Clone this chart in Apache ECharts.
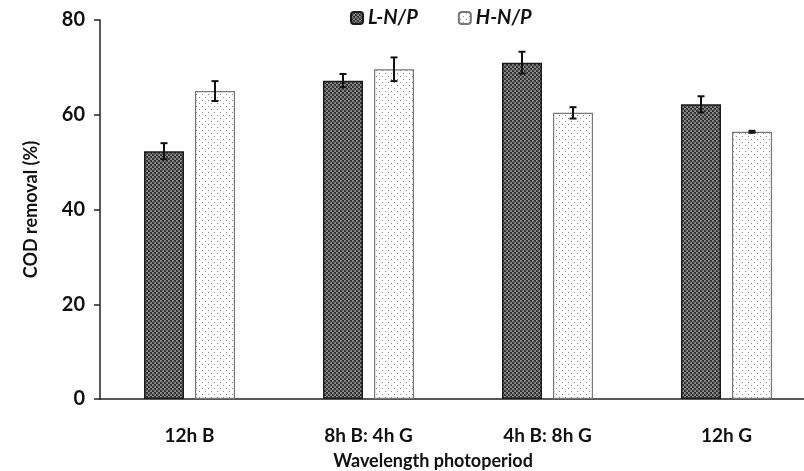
<!DOCTYPE html>
<html><head><meta charset="utf-8">
<script src="https://cdn.jsdelivr.net/npm/echarts@6/dist/echarts.min.js"></script>
<style>html,body{margin:0;background:#fff}#c{width:804px;height:471px}</style></head>
<body><div id="c"></div>
<script>
const categories = ['12h B', '8h B: 4h G', '4h B: 8h G', '12h G'];
const seriesNames = ['L-N/P', 'H-N/P'];
const lnpValues = [52.3, 67.2, 71.0, 62.2];
const lnpErrors = [1.7, 1.4, 2.3, 1.7];
const hnpValues = [65.0, 69.6, 60.4, 56.4];
const hnpErrors = [2.1, 2.5, 1.2, 0.2];
const yMin = 0, yMax = 80, yStep = 20;

function makePattern(kind) {
  const c = document.createElement('canvas');
  if (kind === 'dark') {
    c.width = 4; c.height = 4;
    const g = c.getContext('2d');
    g.fillStyle = '#2e2e2e'; g.fillRect(0, 0, 4, 4);
    g.fillStyle = '#8c8c8c';
    g.fillRect(0, 0, 2, 2); g.fillRect(2, 2, 2, 2);
    g.fillStyle = '#5a5a5a';
    g.fillRect(1, 1, 2, 2);
  } else {
    c.width = 6; c.height = 6;
    const g = c.getContext('2d');
    g.fillStyle = '#ffffff'; g.fillRect(0, 0, 6, 6);
    g.fillStyle = '#8a8a8a';
    g.fillRect(1, 1, 1, 1); g.fillRect(4, 4, 1, 1);
  }
  return { image: c, repeat: 'repeat' };
}

const FONT = 'Lato';
const barW = 40, gap = 11;
const off = (barW + gap) / 2;

function errRender(offset) {
  return function (params, api) {
    const x = api.value(0), v = api.value(1), e = api.value(2);
    const t = api.coord([x, v + e]);
    const b = api.coord([x, v - e]);
    const cx = t[0] + offset, hw = 3.5;
    const st = { stroke: '#111', lineWidth: 2 };
    return { type: 'group', children: [
      { type: 'line', shape: { x1: cx, y1: t[1], x2: cx, y2: b[1] }, style: st },
      { type: 'line', shape: { x1: cx - hw, y1: t[1], x2: cx + hw, y2: t[1] }, style: st },
      { type: 'line', shape: { x1: cx - hw, y1: b[1], x2: cx + hw, y2: b[1] }, style: st }
    ]};
  };
}

const chart = echarts.init(document.getElementById('c'), null, { renderer: 'canvas' });
chart.setOption({
  animation: false,
  backgroundColor: '#fff',
  textStyle: { fontFamily: FONT },
  grid: { left: 100, top: 20, width: 716, height: 379, outerBoundsMode: 'none', containLabel: false },
  legend: {
    top: 3, left: 345,
    data: seriesNames,
    itemWidth: 12, itemHeight: 12, itemGap: 40,
    textStyle: { fontFamily: FONT, fontWeight: 'bold', fontStyle: 'italic', fontSize: 20, color: '#111' }
  },
  xAxis: {
    type: 'category', data: categories,
    axisLine: { lineStyle: { color: '#222', width: 1.5 } },
    axisTick: { length: 6, lineStyle: { color: '#222', width: 1.5 } },
    axisLabel: { margin: 27, fontSize: 19, fontWeight: 'bold', color: '#111', fontFamily: FONT },
    name: 'Wavelength photoperiod', nameLocation: 'middle', nameGap: 53, nameMoveOverlap: false,
    nameTextStyle: { fontSize: 18, fontWeight: 'bold', color: '#111', fontFamily: FONT, padding: [0, 50, 0, 0] }
  },
  yAxis: {
    type: 'value', min: yMin, max: yMax, interval: yStep,
    splitLine: { show: false },
    axisLine: { show: true, lineStyle: { color: '#222', width: 1.5 } },
    axisTick: { show: true, length: 6, lineStyle: { color: '#222', width: 1.5 } },
    axisLabel: { margin: 15, fontSize: 20, fontWeight: 'bold', color: '#111', fontFamily: FONT },
    name: 'COD removal (%)', nameLocation: 'middle', nameGap: 60, nameMoveOverlap: false,
    nameTextStyle: { fontSize: 18, fontWeight: 'bold', color: '#111', fontFamily: FONT }
  },
  series: [
    { name: seriesNames[0], type: 'bar', data: lnpValues, barWidth: barW, barGap: (gap / barW * 100) + '%',
      itemStyle: { color: makePattern('dark'), borderColor: '#1a1a1a', borderWidth: 1.5 } },
    { name: seriesNames[1], type: 'bar', data: hnpValues, barWidth: barW,
      itemStyle: { color: makePattern('light'), borderColor: '#777', borderWidth: 1.2 } },
    { type: 'custom', z: 10, renderItem: errRender(-off),
      data: lnpValues.map((v, i) => [i, v, lnpErrors[i]]), encode: { x: 0, y: 1 }, silent: true },
    { type: 'custom', z: 10, renderItem: errRender(off),
      data: hnpValues.map((v, i) => [i, v, hnpErrors[i]]), encode: { x: 0, y: 1 }, silent: true }
  ]
});
</script>
</body></html>
